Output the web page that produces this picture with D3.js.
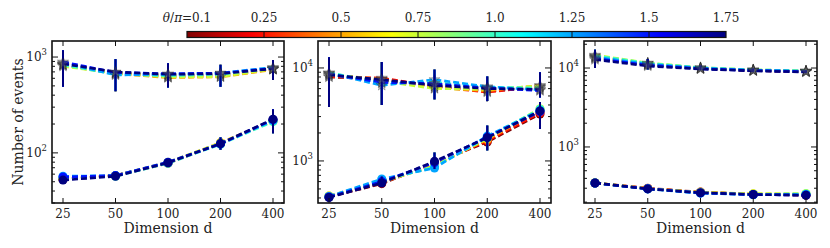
<!DOCTYPE html>
<html>
<head>
<meta charset="utf-8">
<script src="https://cdn.jsdelivr.net/npm/d3@7"></script>
<style>
  body { margin: 0; background: #fff; }
  svg text { font-family: "DejaVu Serif", "Liberation Serif", serif; fill: #222; }
</style>
</head>
<body>
<section></section>
<script>
const dims = [25, 50, 100, 200, 400];
const thetas = ["0.1", "0.25", "0.5", "0.75", "1.0", "1.25", "1.5", "1.75"];

// panel 1 (values per theta, one array per theta)
const p1Stars = [
    [840, 690, 640, 650, 750],
    [830, 680, 620, 630, 745],
    [820, 670, 610, 620, 740],
    [800, 680, 620, 625, 750],
    [830, 660, 640, 660, 770],
    [870, 650, 660, 680, 780],
    [890, 690, 670, 680, 760],
    [850, 700, 660, 670, 755]
];
const p1Circles = [
    [53, 58, 79, 124, 220],
    [53, 58, 78, 126, 218],
    [54, 58, 79, 128, 215],
    [54, 58, 80, 127, 214],
    [55, 57, 78, 123, 212],
    [57, 58, 79, 125, 218],
    [56, 58, 80, 124, 222],
    [52, 57, 79, 125, 225]
];
const p1StarLo = [490, 440, 480, 490, 575];
const p1StarHi = [1180, 950, 860, 830, 930];
const p1CircLo = [50, 55, 73, 108, 160];
const p1CircHi = [55, 60, 86, 145, 285];

// panel 2
const p2Stars = [
    [8000, 7600, 6400, 5600, 6200],
    [8100, 7800, 6300, 5500, 6300],
    [8400, 7600, 6100, 5700, 6500],
    [8700, 7200, 6000, 5900, 6400],
    [8900, 6900, 7000, 6200, 6100],
    [8800, 6500, 7500, 6300, 5800],
    [8600, 7000, 6800, 6100, 5700],
    [8400, 7500, 6500, 6000, 5900]
];
const p2Circles = [
    [410, 570, 950, 1600, 3200],
    [410, 580, 930, 1650, 3300],
    [420, 590, 900, 1700, 3500],
    [420, 600, 880, 1750, 3650],
    [410, 620, 860, 1800, 3600],
    [415, 640, 840, 1850, 3500],
    [410, 600, 960, 1800, 3400],
    [405, 580, 990, 1780, 3450]
];
const p2StarLo = [3800, 4000, 4600, 4400, 4800];
const p2StarHi = [13000, 11600, 9600, 8100, 9000];
const p2CircLo = [390, 530, 820, 1300, 2200];
const p2CircHi = [430, 680, 1230, 2400, 4300];

// panel 3
const p3Stars = [
    [13500, 11000, 9900, 9300, 9000],
    [13800, 11200, 9900, 9300, 9000],
    [14200, 11400, 10000, 9400, 9100],
    [14600, 11600, 10100, 9500, 9200],
    [14300, 11500, 10100, 9500, 9200],
    [13800, 11200, 10000, 9400, 9100],
    [13200, 10900, 9800, 9300, 9000],
    [12800, 10600, 9700, 9200, 8900]
];
const p3Circles = [
    [350, 300, 268, 252, 245],
    [350, 298, 266, 252, 246],
    [350, 296, 265, 254, 250],
    [352, 296, 266, 256, 258],
    [350, 295, 262, 250, 254],
    [348, 294, 260, 248, 250],
    [349, 295, 262, 249, 246],
    [350, 294, 263, 250, 244]
];
const p3StarLo = [10000, 9600, 9400, 9000, 8700];
const p3StarHi = [17000, 13000, 10800, 9900, 9400];
const p3CircLo = [340, 288, 256, 244, 237];
const p3CircHi = [360, 302, 270, 258, 252];

const yDomains = [[30, 1470], [353, 19500], [195, 22000]];
const decadeTicks = [[100, 1000], [1000, 10000], [1000, 10000]];

const panels = [
    {stars: p1Stars, circles: p1Circles, sLo: p1StarLo, sHi: p1StarHi, cLo: p1CircLo, cHi: p1CircHi},
    {stars: p2Stars, circles: p2Circles, sLo: p2StarLo, sHi: p2StarHi, cLo: p2CircLo, cHi: p2CircHi},
    {stars: p3Stars, circles: p3Circles, sLo: p3StarLo, sHi: p3StarHi, cLo: p3CircLo, cHi: p3CircHi}
];

const width = 830, height = 248;
const frames = [[52, 284], [318, 551], [584, 817]];
const plotTop = 41, plotBottom = 203;

// jet colormap (reversed: 0.1 = dark red, 1.75 = navy)
function jet(t) {
    const c = v => Math.max(0, Math.min(1, v));
    const r = c(1.5 - Math.abs(4 * t - 3));
    const g = c(1.5 - Math.abs(4 * t - 2));
    const b = c(1.5 - Math.abs(4 * t - 1));
    return d3.rgb(r * 255, g * 255, b * 255).formatHex();
}
const color = i => jet(1 - i / (thetas.length - 1));

const svg = d3.select("section").append("svg")
    .attr("width", width).attr("height", height)
    .attr("viewBox", [0, 0, width, height]);

// colorbar
const cbX = d3.scalePoint().domain(thetas).range([187, 726]);
const defs = svg.append("defs");
const grad = defs.append("linearGradient").attr("id", "jetgrad");
d3.range(0, 1.0001, 0.02).forEach(t => {
    grad.append("stop").attr("offset", t).attr("stop-color", jet(1 - t));
});
svg.append("rect")
    .attr("x", 187).attr("y", 31.5).attr("width", 539).attr("height", 6)
    .attr("fill", "url(#jetgrad)").attr("stroke", "#111").attr("stroke-width", 1.2);
const cb = svg.append("g");
cb.selectAll("line.t").data(thetas.slice(1, -1)).join("line")
    .attr("x1", d => cbX(d)).attr("x2", d => cbX(d))
    .attr("y1", 31.5).attr("y2", 37.5).attr("stroke", "#111").attr("stroke-width", 1);
cb.selectAll("text").data(thetas).join("text")
    .attr("x", d => cbX(d)).attr("y", 22).attr("text-anchor", "middle")
    .attr("font-size", 12)
    .each(function(d, i) {
        const t = d3.select(this);
        if (i === 0) {
            t.append("tspan").attr("font-style", "italic").text("θ");
            t.append("tspan").text("/");
            t.append("tspan").attr("font-style", "italic").text("π");
            t.append("tspan").text("=" + d);
        } else {
            t.text(d);
        }
    });

const dash = "6,3";

panels.forEach((p, k) => {
    const [x0, x1] = frames[k];
    const x = d3.scaleLog().base(2).domain([25, 400]).range([x0 + 11, x1 - 11]);
    const y = d3.scaleLog().domain(yDomains[k]).range([plotBottom, plotTop]);
    const g = svg.append("g");
    const clipId = "clip" + k;
    defs.append("clipPath").attr("id", clipId)
        .append("rect").attr("x", x0).attr("y", plotTop).attr("width", x1 - x0).attr("height", plotBottom - plotTop);
    const plot = g.append("g").attr("clip-path", `url(#${clipId})`);

    const line = d3.line().x((d, i) => x(dims[i])).y(d => y(d));

    p.stars.forEach((vals, i) => {
        const s = plot.append("g");
        const col = color(i);
        // error bars
        s.selectAll("line.e").data(vals).join("line")
            .attr("x1", (d, j) => x(dims[j])).attr("x2", (d, j) => x(dims[j]))
            .attr("y1", (d, j) => y(p.sLo[j])).attr("y2", (d, j) => y(p.sHi[j]))
            .attr("stroke", col).attr("stroke-width", 2);
        s.append("path").datum(vals).attr("d", line)
            .attr("fill", "none").attr("stroke", col).attr("stroke-width", 2.6)
            .attr("stroke-dasharray", dash);
        s.selectAll("path.m").data(vals).join("path")
            .attr("transform", (d, j) => `translate(${x(dims[j])},${y(d)})`)
            .attr("d", d3.symbol(d3.symbolStar, 38))
            .attr("fill", "#666").attr("fill-opacity", 0.35)
            .attr("stroke", "#222").attr("stroke-width", 0.5).attr("stroke-opacity", 0.6);
    });
    p.circles.forEach((vals, i) => {
        const s = plot.append("g");
        const col = color(i);
        s.selectAll("line.e").data(vals).join("line")
            .attr("x1", (d, j) => x(dims[j])).attr("x2", (d, j) => x(dims[j]))
            .attr("y1", (d, j) => y(p.cLo[j])).attr("y2", (d, j) => y(p.cHi[j]))
            .attr("stroke", col).attr("stroke-width", 2);
        s.append("path").datum(vals).attr("d", line)
            .attr("fill", "none").attr("stroke", col).attr("stroke-width", 2.6)
            .attr("stroke-dasharray", dash);
        s.selectAll("circle").data(vals).join("circle")
            .attr("cx", (d, j) => x(dims[j])).attr("cy", d => y(d)).attr("r", 4.5)
            .attr("fill", col);
    });

    // frame and ticks
    g.append("rect").attr("x", x0).attr("y", plotTop).attr("width", x1 - x0).attr("height", plotBottom - plotTop)
        .attr("fill", "none").attr("stroke", "#111").attr("stroke-width", 1.6);

    const ticks = g.append("g").attr("stroke", "#111").attr("stroke-width", 1);
    dims.forEach(dv => {
        ticks.append("line").attr("x1", x(dv)).attr("x2", x(dv)).attr("y1", plotBottom).attr("y2", plotBottom - 5);
        ticks.append("line").attr("x1", x(dv)).attr("x2", x(dv)).attr("y1", plotTop).attr("y2", plotTop + 5);
    });
    const [ylo, yhi] = yDomains[k];
    const minor = y.ticks().filter(v => v >= ylo && v <= yhi);
    minor.forEach(v => {
        const isMajor = decadeTicks[k].includes(v);
        const len = isMajor ? 6 : 3;
        ticks.append("line").attr("x1", x0).attr("x2", x0 + len).attr("y1", y(v)).attr("y2", y(v));
        ticks.append("line").attr("x1", x1).attr("x2", x1 - len).attr("y1", y(v)).attr("y2", y(v));
    });

    g.selectAll("text.xt").data(dims).join("text")
        .attr("x", d => x(d)).attr("y", 218).attr("text-anchor", "middle")
        .attr("font-size", 12).text(d => d);

    g.selectAll("text.yt").data(decadeTicks[k]).join("text")
        .attr("x", x0 - 5).attr("y", d => y(d) + 4).attr("text-anchor", "end")
        .attr("font-size", 12)
        .each(function(d) {
            const t = d3.select(this);
            t.append("tspan").text("10");
            t.append("tspan").attr("dy", -6).attr("font-size", 8.5).text(Math.round(Math.log10(d)));
        });

    g.append("text").attr("x", (x0 + x1) / 2).attr("y", 233).attr("text-anchor", "middle")
        .attr("font-size", 14).text("Dimension d");
});

svg.append("text")
    .attr("transform", `translate(23,${(plotTop + plotBottom) / 2}) rotate(-90)`)
    .attr("text-anchor", "middle").attr("font-size", 14).text("Number of events");
</script>
</body>
</html>
